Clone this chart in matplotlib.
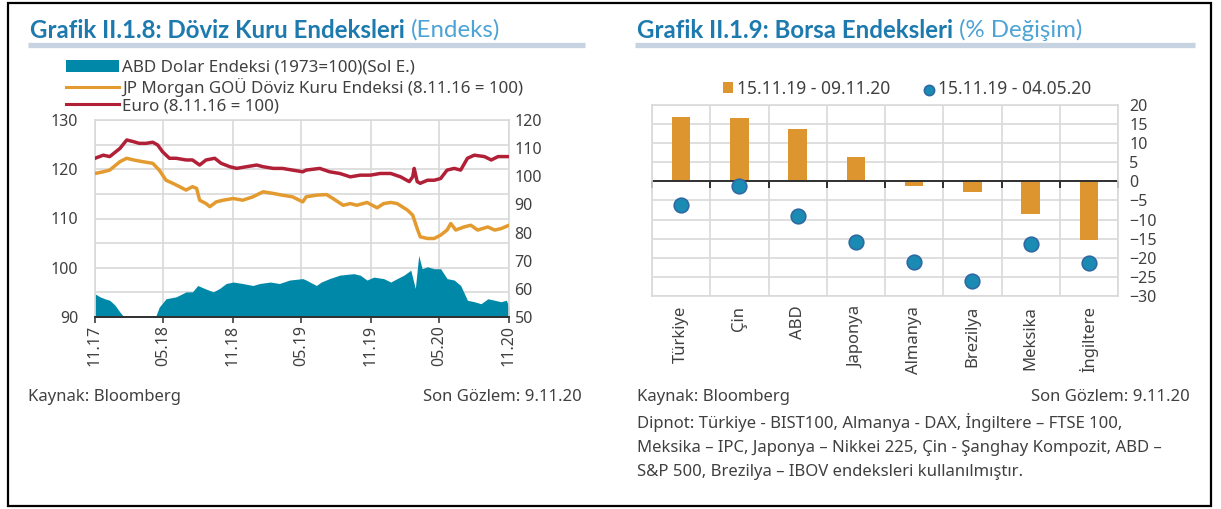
import matplotlib
matplotlib.use("Agg")
import matplotlib.pyplot as plt
from matplotlib.lines import Line2D
from matplotlib.patches import Patch, Rectangle
import numpy as np
import pandas as pd

# ---------------- data ----------------
usd_dates = ["2017-11-09", "2017-11-22", "2017-12-05", "2017-12-18", "2018-01-01", "2018-01-14",
             "2018-01-27", "2018-02-19", "2018-03-15", "2018-04-16", "2018-04-28", "2018-05-16",
             "2018-06-12", "2018-07-08", "2018-07-25", "2018-08-08", "2018-08-26", "2018-09-18",
             "2018-10-05", "2018-10-22", "2018-11-10", "2018-12-05", "2019-01-01", "2019-01-19",
             "2019-02-16", "2019-03-12", "2019-04-08", "2019-05-13", "2019-05-22", "2019-06-18",
             "2019-07-01", "2019-07-23", "2019-08-19", "2019-09-25", "2019-10-12", "2019-10-30",
             "2019-11-17", "2019-12-13", "2020-01-01", "2020-01-18", "2020-02-05", "2020-02-23",
             "2020-03-06", "2020-03-15", "2020-03-24", "2020-04-07", "2020-04-25", "2020-05-12",
             "2020-05-29", "2020-06-17", "2020-07-04", "2020-07-22", "2020-08-09", "2020-08-27",
             "2020-09-14", "2020-10-02", "2020-10-19", "2020-11-02", "2020-11-09"]
usd_values = [94.7, 94.1, 93.7, 93.4, 92.4, 91.0, 89.8, 89.4, 89.6, 89.6, 92.0, 93.7,
              94.1, 95.1, 95.1, 96.4, 95.8, 95.1, 95.8, 96.8, 97.1, 96.8, 96.4, 96.8,
              97.1, 96.8, 97.5, 97.8, 97.5, 96.4, 97.1, 97.8, 98.5, 98.8, 98.5, 97.5,
              98.1, 97.8, 97.1, 97.8, 98.5, 99.5, 95.8, 102.5, 99.8, 100.2, 99.8, 99.8,
              97.8, 97.5, 96.4, 93.4, 93.1, 92.7, 93.7, 93.4, 93.1, 93.4, 92.0]

jpm_dates = ["2017-11-09", "2017-12-01", "2017-12-18", "2018-01-14", "2018-02-01", "2018-02-19",
             "2018-03-15", "2018-04-11", "2018-04-28", "2018-05-16", "2018-06-03", "2018-06-21",
             "2018-07-08", "2018-07-25", "2018-08-05", "2018-08-13", "2018-08-30", "2018-09-09",
             "2018-09-26", "2018-10-14", "2018-11-10", "2018-12-05", "2019-01-01", "2019-01-28",
             "2019-02-24", "2019-03-20", "2019-04-16", "2019-05-13", "2019-05-22", "2019-06-18",
             "2019-07-15", "2019-08-01", "2019-08-28", "2019-09-16", "2019-10-03", "2019-10-30",
             "2019-11-26", "2019-12-13", "2020-01-01", "2020-01-18", "2020-02-14", "2020-02-28",
             "2020-03-11", "2020-03-19", "2020-04-07", "2020-04-25", "2020-05-12", "2020-05-29",
             "2020-06-08", "2020-06-21", "2020-07-13", "2020-07-31", "2020-08-18", "2020-09-14",
             "2020-10-02", "2020-10-19", "2020-11-09"]
jpm_values = [101.0, 101.6, 102.2, 105.2, 106.4, 105.8, 105.2, 104.6, 102.2, 98.6, 97.5, 96.3,
              95.1, 96.3, 95.7, 91.5, 90.3, 89.2, 90.9, 91.5, 92.1, 91.5, 92.7, 94.5,
              93.9, 93.3, 92.7, 90.9, 92.7, 93.3, 93.5, 92.1, 89.7, 90.3, 89.7, 90.7,
              88.8, 90.3, 90.7, 90.3, 88.0, 86.2, 81.4, 78.5, 77.9, 77.9, 79.1, 80.9,
              83.2, 80.9, 82.0, 82.6, 80.9, 82.0, 80.9, 81.4, 82.6]

eur_dates = ["2017-11-09", "2017-12-01", "2017-12-18", "2018-01-14", "2018-02-01", "2018-02-19",
             "2018-03-06", "2018-03-24", "2018-04-11", "2018-04-24", "2018-05-07", "2018-05-25",
             "2018-06-12", "2018-07-08", "2018-07-25", "2018-08-13", "2018-08-30", "2018-09-22",
             "2018-10-09", "2018-11-01", "2018-11-19", "2018-12-15", "2019-01-11", "2019-01-28",
             "2019-02-24", "2019-03-20", "2019-04-16", "2019-05-13", "2019-05-22", "2019-06-27",
             "2019-07-23", "2019-08-19", "2019-09-16", "2019-10-12", "2019-11-08", "2019-12-04",
             "2020-01-01", "2020-01-27", "2020-02-19", "2020-02-28", "2020-03-03", "2020-03-11",
             "2020-03-19", "2020-04-07", "2020-04-25", "2020-05-12", "2020-05-29", "2020-06-17",
             "2020-07-04", "2020-07-22", "2020-08-09", "2020-09-05", "2020-09-23", "2020-10-11",
             "2020-11-09"]
eur_values = [106.4, 107.5, 107.0, 109.9, 112.9, 112.3, 111.7, 111.7, 112.1, 111.1, 108.7, 106.4,
              106.4, 105.8, 105.8, 104.0, 105.8, 106.4, 104.6, 103.4, 102.8, 103.4, 104.0, 103.4,
              102.8, 102.8, 102.2, 101.6, 102.2, 102.8, 101.6, 101.0, 99.8, 100.4, 100.4, 101.0,
              101.0, 99.8, 98.1, 99.8, 102.8, 98.1, 97.5, 98.6, 98.6, 99.2, 102.2, 102.8,
              102.2, 106.4, 107.5, 107.0, 105.8, 107.0, 107.0]

left_labels = ["ABD Dolar Endeksi (1973=100)(Sol E.)",
               "JP Morgan GOÜ Döviz Kuru Endeksi (8.11.16 = 100)",
               "Euro (8.11.16 = 100)"]

countries = ["Türkiye", "Çin", "ABD", "Japonya", "Almanya", "Brezilya", "Meksika", "İngiltere"]
change_year = [16.8, 16.5, 13.6, 6.5, -1.1, -2.9, -8.6, -15.4]
change_may = [-6.2, -1.1, -9.1, -15.9, -21.1, -26.0, -16.3, -21.3]
right_labels = ["15.11.19 - 09.11.20", "15.11.19 - 04.05.20"]

# ---------------- style ----------------
plt.rcParams["font.family"] = ["Noto Sans", "DejaVu Sans"]
TITLE_FONT = ["Lato", "DejaVu Sans"]

TXT = "#404040"
TITLE = "#1D7AAE"
TITLE2 = "#4CA3D5"
SEP = "#C8D3E1"
GRID = "#D9D9D9"
TEAL = "#0088A8"
ORANGE = "#E39A2F"
RED = "#B22038"
BAR = "#DD952F"
DOT = "#1A8CB3"
DOT_EDGE = "#2F69A3"

W, H = 1221, 509
fig = plt.figure(figsize=(W / 100, H / 100), dpi=100)


def fx(x):
    return x / W


def fy(y):
    return 1 - y / H


# outer border
fig.add_artist(Rectangle((fx(8), fy(506)), (1211 - 8) / W, (506 - 3) / H,
                         transform=fig.transFigure, fill=False, ec="black", lw=1.6))

TS = 17.3


def title(x, bold, regular):
    t1 = fig.text(fx(x), fy(30), bold, fontsize=TS, fontweight="bold", color=TITLE,
                  ha="left", va="center", family=TITLE_FONT)
    fig.canvas.draw()
    bb = t1.get_window_extent(fig.canvas.get_renderer())
    fig.text(fx(bb.x1 + 6), fy(30), regular, fontsize=TS, color=TITLE2, ha="left",
             va="center", family=TITLE_FONT)


title(30, "Grafik II.1.8: Döviz Kuru Endeksleri", "(Endeks)")
title(637, "Grafik II.1.9: Borsa Endeksleri", "(% Değişim)")

for x0, x1 in [(28, 585), (635, 1195)]:
    fig.add_artist(Line2D([fx(x0), fx(x1)], [fy(45), fy(45)], transform=fig.transFigure,
                          color=SEP, lw=3.8, solid_capstyle="butt"))

TICK = 11.5

# ---------------- left chart ----------------
ax1 = fig.add_axes([fx(95), fy(317), (509 - 95) / W, (317 - 120) / H])
ax1.set_zorder(1)
ax1.fill_between(pd.to_datetime(usd_dates), 90, usd_values, color=TEAL, lw=0, zorder=2)
ax1.set_ylim(90, 130)
yt = np.arange(90, 131, 5)
ax1.set_yticks(yt)
ax1.set_yticklabels([str(v) if v % 10 == 0 else "" for v in yt])
start, end = pd.Timestamp("2017-11-09"), pd.Timestamp("2020-11-09")
ax1.set_xlim(start, end)
xt = pd.date_range(start, periods=7, freq=pd.DateOffset(months=6))
ax1.set_xticks(xt)
ax1.set_xticklabels(xt.strftime("%m.%y"))
ax1.grid(True, color=GRID, lw=1.2, zorder=0)
ax1.set_axisbelow(True)
ax1.tick_params(axis="x", length=4, width=1.2, direction="out", color=TXT, rotation=90,
                labelsize=TICK, labelcolor=TXT, pad=2)
ax1.tick_params(axis="y", length=0, labelsize=TICK, labelcolor=TXT, pad=12)
for s in ["top", "left", "right"]:
    ax1.spines[s].set_color(GRID)
    ax1.spines[s].set_linewidth(1.2)
ax1.spines["bottom"].set_color("#303030")
ax1.spines["bottom"].set_linewidth(1.4)

ax2 = ax1.twinx()
ax2.plot(pd.to_datetime(jpm_dates), jpm_values, color=ORANGE, lw=2.5)
ax2.plot(pd.to_datetime(eur_dates), eur_values, color=RED, lw=2.5)
ax2.set_ylim(50, 120)
ax2.set_yticks(np.arange(50, 121, 10))
ax2.tick_params(axis="y", length=0, labelsize=TICK, labelcolor=TXT, pad=4)
for s in ax2.spines.values():
    s.set_visible(False)

handles = [Patch(color=TEAL, lw=0), Line2D([], [], color=ORANGE, lw=2.2),
           Line2D([], [], color=RED, lw=2.2)]
fig.legend(handles, left_labels, loc="upper left", bbox_to_anchor=(fx(66), fy(60)),
           frameon=False, fontsize=12.2, handlelength=3.1, handletextpad=0.2,
           labelspacing=0.1, borderaxespad=0, borderpad=0, labelcolor=TXT)

# ---------------- right chart ----------------
ax3 = fig.add_axes([fx(652), fy(296), (1118 - 652) / W, (296 - 105) / H])
xpos = np.arange(len(countries))
bars = ax3.bar(xpos, change_year, width=0.32, color=BAR, zorder=2)
dots = ax3.scatter(xpos, change_may, s=110, color=DOT, edgecolors=DOT_EDGE, linewidths=1.2,
                   zorder=3)
ax3.set_ylim(-30, 20)
ax3.set_xlim(-0.5, len(countries) - 0.5)
ax3.set_yticks(np.arange(-30, 21, 5))
ax3.yaxis.tick_right()
ax3.set_xticks(xpos)
ax3.set_xticklabels(countries, rotation=90)
ax3.set_xticks(np.arange(-0.5, len(countries), 1), minor=True)
ax3.grid(True, which="major", axis="y", color=GRID, lw=1.2)
ax3.grid(True, which="minor", axis="x", color=GRID, lw=1.2)
ax3.set_axisbelow(True)
ax3.tick_params(which="both", length=0)
ax3.tick_params(axis="y", labelsize=TICK, labelcolor=TXT, pad=8)
ax3.tick_params(axis="x", labelsize=TICK + 0.5, labelcolor=TXT, pad=7)
for s in ax3.spines.values():
    s.set_color(GRID)
    s.set_linewidth(1.2)
bounds = np.arange(-0.5, len(countries), 1)
ax3.axhline(0, color="#303030", lw=1.4, zorder=2.5)
ax3.plot(bounds, np.zeros_like(bounds), ls="none", marker=3, ms=5, mew=1.4, color="#303030",
         zorder=2.5, clip_on=False)

fig.legend([bars, dots], right_labels, loc="center", bbox_to_anchor=(fx(907), fy(89)),
           ncol=2, frameon=False, fontsize=12.5, handlelength=0.6, handleheight=0.6,
           markerscale=0.7, handletextpad=0.25, columnspacing=1.9, borderaxespad=0,
           borderpad=0, labelcolor=TXT)

# ---------------- notes ----------------
NS = 12
fig.text(fx(28), fy(397), "Kaynak: Bloomberg", fontsize=NS, color=TXT, va="center")
fig.text(fx(582), fy(397), "Son Gözlem: 9.11.20", fontsize=NS, color=TXT, va="center", ha="right")
fig.text(fx(637), fy(397), "Kaynak: Bloomberg", fontsize=NS, color=TXT, va="center")
fig.text(fx(1190), fy(397), "Son Gözlem: 9.11.20", fontsize=NS, color=TXT, va="center", ha="right")
notes = ["Dipnot: Türkiye - BIST100, Almanya - DAX, İngiltere – FTSE 100,",
         "Meksika – IPC, Japonya – Nikkei 225, Çin - Şanghay Kompozit, ABD –",
         "S&P 500, Brezilya – IBOV endeksleri kullanılmıştır."]
for i, line in enumerate(notes):
    fig.text(fx(637), fy(423 + 24.5 * i), line, fontsize=NS, color=TXT, va="center")

fig.savefig("out.png", dpi=100)
